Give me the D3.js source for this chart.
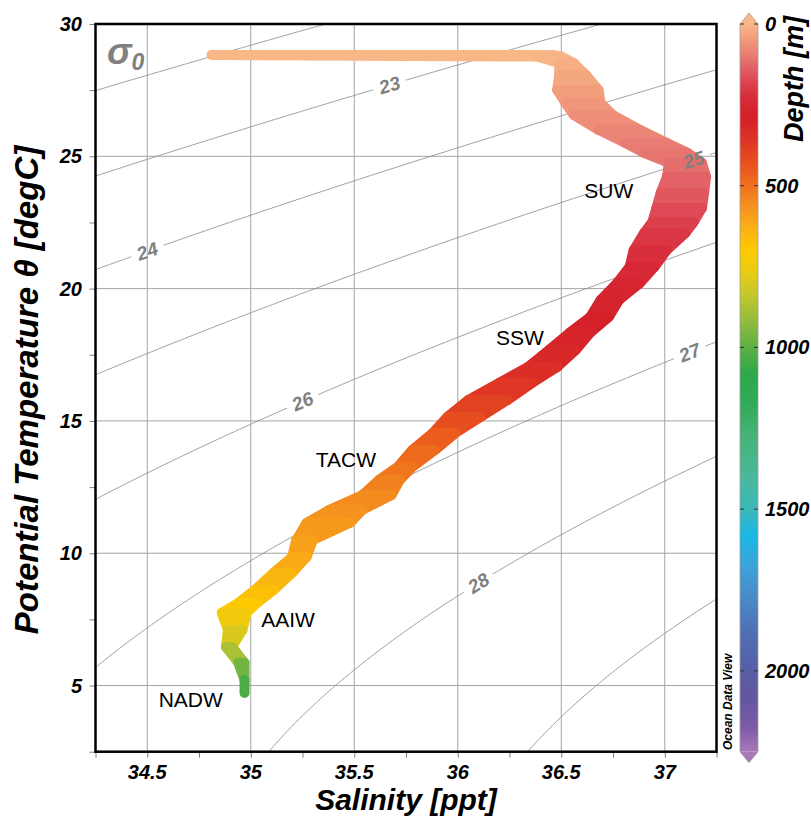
<!DOCTYPE html>
<html>
<head>
<meta charset="utf-8">
<script src="https://cdn.jsdelivr.net/npm/d3@7"></script>
<style>
  body { margin: 0; background: #fff; }
  svg { display: block; }
  text { font-family: "Liberation Sans", Arial, sans-serif; }
</style>
</head>
<body>
<svg width="811" height="818"></svg>
<script>
// Profile envelope: depth [m], potential temperature [degC],
// and the salinity spread of the casts at that level [ppt]
var depth  = [0, 5, 10, 20, 35, 50, 60, 75, 90, 100, 110, 125, 140, 160, 180, 200, 215, 230, 250, 265, 280,
              295, 310, 325, 350, 380, 410, 440, 470, 500, 520, 540, 560, 575, 590, 605, 630, 660, 685, 710,
              770, 830, 930, 1000, 1060];
var theta  = [28.83, 28.77, 28.53, 28.07, 27.51, 27.02, 26.56, 26.00, 25.50, 25.13, 24.75, 24.22, 23.61, 23.05, 22.52,
              22.10, 21.46, 20.82, 20.21, 19.57, 18.93, 18.33, 17.68, 17.04, 16.44, 15.79, 15.15, 14.55, 13.90,
              13.26, 12.77, 12.20, 11.64, 11.15, 10.50, 9.86, 9.26, 8.61, 8.12, 7.75, 7.10, 6.46, 5.86, 5.21, 4.72];
var salMin = [34.81, 36.38, 36.49, 36.49, 36.48, 36.52, 36.56, 36.68, 36.81, 36.90, 37.02, 37.01, 36.98, 36.96, 36.94,
              36.90, 36.85, 36.83, 36.77, 36.69, 36.64, 36.54, 36.44, 36.34, 36.20, 36.05, 35.95, 35.88, 35.78,
              35.71, 35.62, 35.54, 35.38, 35.27, 35.22, 35.20, 35.11, 35.02, 34.94, 34.86, 34.89, 34.88, 34.94,
              34.97, 34.97];
var salMax = [36.46, 36.50, 36.56, 36.62, 36.68, 36.69, 36.75, 36.88, 37.01, 37.11, 37.18, 37.20, 37.19, 37.18, 37.14,
              37.10, 37.01, 36.95, 36.88, 36.78, 36.73, 36.64, 36.57, 36.48, 36.36, 36.24, 36.11, 35.99, 35.89,
              35.78, 35.72, 35.68, 35.54, 35.48, 35.30, 35.27, 35.20, 35.11, 35.03, 34.98, 34.96, 34.91, 34.97,
              34.97, 34.97];

var xTicks = [34.5, 35, 35.5, 36, 36.5, 37];
var yTicks = [5, 10, 15, 20, 25, 30];
var depthTicks = [0, 500, 1000, 1500, 2000];

// isopycnals (sigma-0) and where their labels sit
var sigmaLevels = [22, 23, 24, 25, 26, 27, 28, 29];
var sigmaLabels = [23, 24, 25, 26, 27, 28];
var sigmaLabelSal = [35.67, 34.50, 37.14, 35.25, 37.12, 36.10];

// water mass annotations
var waterMasses = ["SUW", "SSW", "TACW", "AAIW", "NADW"];
var waterMassSal = [36.73, 36.30, 35.46, 35.18, 34.71];
var waterMassTemp = [23.43, 17.87, 13.26, 7.22, 4.19];

// ODV-like depth palette
var palDepth = [0, 40, 90, 130, 180, 230, 290, 360, 430, 490, 560, 630, 700, 770, 840, 920, 1000, 1080,
                1170, 1270, 1400, 1500, 1580, 1680, 1780, 1880, 1980, 2080, 2170, 2250];
var palColor = ["#f8b888", "#f2a07c", "#ea8074", "#e26468", "#dc4450", "#d82a38", "#d42028", "#de3426",
                "#e8501e", "#ee6c1c", "#f49020", "#fab014", "#fdcb00", "#e8cb14", "#c4c62e", "#90bc3e",
                "#5cb044", "#2ea84a", "#30aa58", "#46b276", "#4ab89c", "#3cb8b8", "#18b8e4", "#3ea2d8",
                "#4a88c8", "#5070b4", "#5660a6", "#6256a0", "#7a5aa6", "#a878b8"];

var svg = d3.select("svg");

var x = d3.scaleLinear().domain([34.25, 37.25]).range([95.5, 716.5]);
var y = d3.scaleLinear().domain([2.5, 30]).range([751.7, 24]);
var yD = d3.scaleLinear().domain([0, 2250]).range([24, 751.7]);
var color = d3.scaleLinear().domain(palDepth).range(palColor).clamp(true);

var defs = svg.append("defs");
defs.append("clipPath").attr("id", "plotclip")
    .append("rect")
    .attr("x", x.range()[0]).attr("y", y.range()[1])
    .attr("width", x.range()[1] - x.range()[0])
    .attr("height", y.range()[0] - y.range()[1]);

// grid
svg.append("g").selectAll("line").data(xTicks.filter(d => d < 37.25)).enter().append("line")
    .attr("x1", d => x(d)).attr("x2", d => x(d))
    .attr("y1", y.range()[1]).attr("y2", y.range()[0])
    .attr("stroke", "#a4a4a4").attr("stroke-width", 1);
svg.append("g").selectAll("line").data(yTicks.filter(d => d < 30)).enter().append("line")
    .attr("y1", d => y(d)).attr("y2", d => y(d))
    .attr("x1", x.range()[0]).attr("x2", x.range()[1])
    .attr("stroke", "#a4a4a4").attr("stroke-width", 1);

// sigma-0 (EOS-80, p = 0)
function sigma0(S, T) {
    var rw = 999.842594 + 6.793952e-2 * T - 9.095290e-3 * T * T + 1.001685e-4 * Math.pow(T, 3)
        - 1.120083e-6 * Math.pow(T, 4) + 6.536332e-9 * Math.pow(T, 5);
    var A = 8.24493e-1 - 4.0899e-3 * T + 7.6438e-5 * T * T - 8.2467e-7 * Math.pow(T, 3) + 5.3875e-9 * Math.pow(T, 4);
    var B = -5.72466e-3 + 1.0227e-4 * T - 1.6546e-6 * T * T;
    return rw + A * S + B * Math.pow(S, 1.5) + 4.8314e-4 * S * S - 1000;
}

var S0 = 34.0, dS = 0.02, nx = 176;
var T0 = 1.0, dT = 0.1, ny = 306;
var grid = new Array(nx * ny);
for (var j = 0; j < ny; j++)
    for (var i = 0; i < nx; i++)
        grid[i + j * nx] = sigma0(S0 + i * dS, T0 + j * dT);

var contours = d3.contours().size([nx, ny]).thresholds(sigmaLevels)(grid);
var gridProj = d3.geoTransform({
    point: function (px, py) {
        this.stream.point(x(S0 + (px - 0.5) * dS), y(T0 + (py - 0.5) * dT));
    }
});
var gpath = d3.geoPath(gridProj);

// label positions on the isopycnals
function tempOn(level, S) {
    var lo = -2, hi = 40;
    for (var k = 0; k < 60; k++) {
        var mid = (lo + hi) / 2;
        if (sigma0(S, mid) > level) lo = mid; else hi = mid;
    }
    return (lo + hi) / 2;
}
var labelPos = sigmaLabels.map(function (lv, i) {
    var s = sigmaLabelSal[i];
    var p0 = [x(s - 0.05), y(tempOn(lv, s - 0.05))];
    var p1 = [x(s + 0.05), y(tempOn(lv, s + 0.05))];
    return {
        level: lv,
        px: x(s), py: y(tempOn(lv, s)),
        angle: Math.atan2(p1[1] - p0[1], p1[0] - p0[0]) * 180 / Math.PI
    };
});

var mask = defs.append("mask").attr("id", "labelgap");
mask.append("rect").attr("x", 0).attr("y", 0).attr("width", 811).attr("height", 818).attr("fill", "#fff");
mask.selectAll("rect.gap").data(labelPos).enter().append("rect")
    .attr("class", "gap")
    .attr("x", -17).attr("y", -10).attr("width", 34).attr("height", 20)
    .attr("fill", "#000")
    .attr("transform", d => "translate(" + d.px + "," + d.py + ") rotate(" + d.angle + ")");

svg.append("g").attr("clip-path", "url(#plotclip)")
    .append("g").attr("mask", "url(#labelgap)")
    .selectAll("path").data(contours).enter().append("path")
    .attr("d", gpath)
    .attr("fill", "none")
    .attr("stroke", "#888")
    .attr("stroke-width", 0.8);

// the T-S ribbon, one band per depth step, coloured by depth
var prof = depth.map((d, i) => ({ d: d, t: theta[i], s0: salMin[i], s1: salMax[i] }));
var bands = d3.pairs(prof);
svg.append("g").attr("clip-path", "url(#plotclip)")
    .selectAll("path").data(bands).enter().append("path")
    .attr("d", function (p) {
        var a = p[0], b = p[1];
        return "M" + x(a.s0) + "," + y(a.t) + "L" + x(a.s1) + "," + y(a.t)
            + "L" + x(b.s1) + "," + y(b.t) + "L" + x(b.s0) + "," + y(b.t) + "Z";
    })
    .attr("fill", p => color((p[0].d + p[1].d) / 2))
    .attr("stroke", p => color((p[0].d + p[1].d) / 2))
    .attr("stroke-width", 10)
    .attr("stroke-linejoin", "round");

// isopycnal labels on top of the data
svg.append("g").selectAll("text").data(labelPos).enter().append("text")
    .attr("transform", d => "translate(" + d.px + "," + d.py + ") rotate(" + d.angle + ")")
    .attr("text-anchor", "middle")
    .attr("dy", "0.36em")
    .attr("font-size", 19)
    .attr("font-weight", "bold")
    .attr("font-style", "italic")
    .attr("fill", "#7f7f7f")
    .text(d => d.level);

// water mass names
svg.append("g").selectAll("text").data(waterMasses).enter().append("text")
    .attr("x", (d, i) => x(waterMassSal[i]))
    .attr("y", (d, i) => y(waterMassTemp[i]))
    .attr("text-anchor", "middle")
    .attr("font-size", 21)
    .attr("fill", "#000")
    .text(d => d);

// sigma-0 tag
var sig = svg.append("text").attr("x", 107).attr("y", 64)
    .attr("fill", "#808080").attr("font-weight", "bold").attr("font-style", "italic");
sig.append("tspan").attr("font-size", 37).text("σ");
sig.append("tspan").attr("font-size", 23).attr("dy", 6).text("0");

// axes (ticks only, labels drawn separately)
svg.append("g")
    .attr("transform", "translate(0," + y.range()[0] + ")")
    .call(d3.axisBottom(x).tickValues(d3.range(34.25, 37.26, 0.25)).tickSize(6).tickFormat(""))
    .call(g => g.select(".domain").remove())
    .call(g => g.selectAll("line").attr("stroke", "#808080"));
svg.append("g")
    .attr("transform", "translate(" + x.range()[0] + ",0)")
    .call(d3.axisLeft(y).tickValues(d3.range(2.5, 30.1, 2.5)).tickSize(6).tickFormat(""))
    .call(g => g.select(".domain").remove())
    .call(g => g.selectAll("line").attr("stroke", "#808080"));

svg.append("g").selectAll("text").data(xTicks).enter().append("text")
    .attr("x", d => x(d)).attr("y", 779)
    .attr("text-anchor", "middle")
    .attr("font-size", 20).attr("font-weight", "bold").attr("font-style", "italic")
    .text(d => d);
svg.append("g").selectAll("text").data(yTicks).enter().append("text")
    .attr("x", 82).attr("y", d => y(d) + 7)
    .attr("text-anchor", "end")
    .attr("font-size", 20).attr("font-weight", "bold").attr("font-style", "italic")
    .text(d => d);

// frame
svg.append("rect")
    .attr("x", x.range()[0]).attr("y", y.range()[1])
    .attr("width", x.range()[1] - x.range()[0])
    .attr("height", y.range()[0] - y.range()[1])
    .attr("fill", "none").attr("stroke", "#000").attr("stroke-width", 2.5);

svg.append("text")
    .attr("x", 406).attr("y", 810)
    .attr("text-anchor", "middle")
    .attr("font-size", 30).attr("font-weight", "bold").attr("font-style", "italic")
    .text("Salinity [ppt]");
svg.append("text")
    .attr("transform", "translate(38,390) rotate(-90)")
    .attr("text-anchor", "middle")
    .attr("font-size", 33).attr("font-weight", "bold").attr("font-style", "italic")
    .text("Potential Temperature θ [degC]");

// colour bar
var cbX = 740, cbW = 18;
var grad = defs.append("linearGradient").attr("id", "depthgrad")
    .attr("x1", 0).attr("y1", 0).attr("x2", 0).attr("y2", 1);
grad.selectAll("stop").data(palDepth).enter().append("stop")
    .attr("offset", d => d / 2250)
    .attr("stop-color", (d, i) => palColor[i]);

var cb = svg.append("g");
cb.append("rect")
    .attr("x", cbX).attr("y", yD(0)).attr("width", cbW).attr("height", yD(2250) - yD(0))
    .attr("fill", "url(#depthgrad)");
cb.append("path")
    .attr("d", "M" + cbX + "," + yD(0) + "L" + (cbX + cbW / 2) + "," + (yD(0) - 11) + "L" + (cbX + cbW) + "," + yD(0) + "Z")
    .attr("fill", color(0));
cb.append("path")
    .attr("d", "M" + cbX + "," + yD(2250) + "L" + (cbX + cbW / 2) + "," + (yD(2250) + 11) + "L" + (cbX + cbW) + "," + yD(2250) + "Z")
    .attr("fill", color(2250));
cb.append("path")
    .attr("d", "M" + cbX + "," + yD(0) + "L" + (cbX + cbW / 2) + "," + (yD(0) - 11) + "L" + (cbX + cbW) + "," + yD(0)
        + "L" + (cbX + cbW) + "," + yD(2250) + "L" + (cbX + cbW / 2) + "," + (yD(2250) + 11) + "L" + cbX + "," + yD(2250) + "Z")
    .attr("fill", "none").attr("stroke", "#a0a0a0").attr("stroke-width", 0.8);
cb.selectAll("line.l").data(depthTicks).enter().append("line")
    .attr("x1", cbX).attr("x2", cbX + 4).attr("y1", d => yD(d)).attr("y2", d => yD(d))
    .attr("stroke", "#333").attr("stroke-width", 1);
cb.selectAll("line.r").data(depthTicks).enter().append("line")
    .attr("x1", cbX + cbW - 4).attr("x2", cbX + cbW).attr("y1", d => yD(d)).attr("y2", d => yD(d))
    .attr("stroke", "#333").attr("stroke-width", 1);
cb.selectAll("text").data(depthTicks).enter().append("text")
    .attr("x", 765).attr("y", d => yD(d) + 7)
    .attr("font-size", 20).attr("font-weight", "bold").attr("font-style", "italic")
    .text(d => d);

svg.append("text")
    .attr("transform", "translate(803,79) rotate(-90)")
    .attr("text-anchor", "middle")
    .attr("font-size", 27).attr("font-weight", "bold").attr("font-style", "italic")
    .text("Depth [m]");
svg.append("text")
    .attr("transform", "translate(732,750) rotate(-90)")
    .attr("font-size", 12).attr("font-weight", "bold").attr("font-style", "italic")
    .text("Ocean Data View");
</script>
</body>
</html>
